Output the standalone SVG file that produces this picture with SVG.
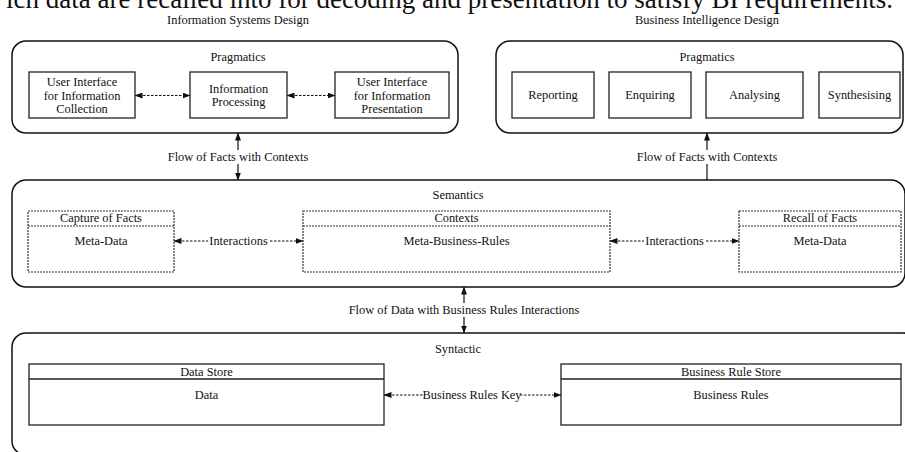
<svg xmlns="http://www.w3.org/2000/svg" width="905" height="452" viewBox="0 0 905 452">
<style>
text{font-family:"Liberation Serif","Times New Roman",serif;font-size:12.4px;fill:#111;text-anchor:middle}
.big{font-size:27px;text-anchor:end}
.outer{fill:none;stroke:#111;stroke-width:1.5}
.box{fill:#fff;stroke:#222;stroke-width:1.3}
.dbox{fill:#fff;stroke:#333;stroke-width:1.2;stroke-dasharray:2 1}
.solid{stroke:#111;stroke-width:1.2;fill:none}
.dash{stroke:#111;stroke-width:1;fill:none;stroke-dasharray:2.5 1.5}
.bg{fill:#fff}
</style>
<defs>
<marker id="ah" viewBox="0 0 8 6" refX="7.5" refY="3" markerWidth="8" markerHeight="6" markerUnits="userSpaceOnUse" orient="auto-start-reverse">
<path d="M0,0 L8,3 L0,6 z" fill="#111"/>
</marker>
</defs>
<rect width="905" height="452" fill="#fff"/>
<text class="big" x="893" y="8">ich data are recalled into for decoding and presentation to satisfy BI requirements.</text>
<text x="238" y="24">Information Systems Design</text>
<text x="707" y="24">Business Intelligence Design</text>

<g id="is-pragmatics">
<rect class="outer" x="12" y="41" width="446" height="92" rx="14"/>
<text x="238" y="61">Pragmatics</text>
</g>
<g id="ui-collection">
<rect class="box" x="29" y="72" width="106" height="46"/>
<text x="82" y="86">User Interface</text>
<text x="82" y="99.5">for Information</text>
<text x="82" y="113">Collection</text>
</g>
<g id="info-processing">
<rect class="box" x="190" y="72" width="97" height="46"/>
<text x="238.5" y="92.5">Information</text>
<text x="238.5" y="106">Processing</text>
</g>
<g id="ui-presentation">
<rect class="box" x="335" y="72" width="114" height="46"/>
<text x="392" y="86">User Interface</text>
<text x="392" y="99.5">for Information</text>
<text x="392" y="113">Presentation</text>
</g>

<g id="bi-pragmatics">
<rect class="outer" x="496" y="41" width="407" height="92" rx="14"/>
<text x="707" y="61">Pragmatics</text>
</g>
<g id="reporting">
<rect class="box" x="512" y="72" width="82" height="46"/>
<text x="553" y="99">Reporting</text>
</g>
<g id="enquiring">
<rect class="box" x="609" y="72" width="82" height="46"/>
<text x="650" y="99">Enquiring</text>
</g>
<g id="analysing">
<rect class="box" x="706" y="72" width="97" height="46"/>
<text x="754.5" y="99">Analysing</text>
</g>
<g id="synthesising">
<rect class="box" x="819" y="72" width="81" height="46"/>
<text x="859.5" y="99">Synthesising</text>
</g>

<g id="semantics">
<rect class="outer" x="12" y="180" width="893" height="107" rx="14"/>
<text x="458" y="199">Semantics</text>
</g>
<g id="capture-of-facts">
<rect class="dbox" x="28" y="211" width="146" height="61"/>
<line class="dbox" x1="28" y1="226" x2="174" y2="226"/>
<text x="101" y="222">Capture of Facts</text>
<text x="101" y="245">Meta-Data</text>
</g>
<g id="contexts">
<rect class="dbox" x="303" y="211" width="307" height="61"/>
<line class="dbox" x1="303" y1="226" x2="610" y2="226"/>
<text x="456.5" y="222">Contexts</text>
<text x="456.5" y="245">Meta-Business-Rules</text>
</g>
<g id="recall-of-facts">
<rect class="dbox" x="739" y="211" width="162" height="61"/>
<line class="dbox" x1="739" y1="226" x2="901" y2="226"/>
<text x="820" y="222">Recall of Facts</text>
<text x="820" y="245">Meta-Data</text>
</g>

<g id="syntactic">
<rect class="outer" x="12" y="333" width="905" height="122" rx="14"/>
<text x="458" y="353">Syntactic</text>
</g>
<g id="data-store">
<rect class="box" x="29" y="364" width="355" height="61"/>
<line class="box" x1="29" y1="379" x2="384" y2="379"/>
<text x="206.5" y="376">Data Store</text>
<text x="206.5" y="399">Data</text>
</g>
<g id="business-rule-store">
<rect class="box" x="561" y="364" width="340" height="61"/>
<line class="box" x1="561" y1="379" x2="901" y2="379"/>
<text x="731" y="376">Business Rule Store</text>
<text x="731" y="399">Business Rules</text>
</g>

<g id="connectors">
<line class="dash" x1="135" y1="95.5" x2="190" y2="95.5" marker-start="url(#ah)" marker-end="url(#ah)"/>
<line class="dash" x1="287" y1="95.5" x2="335" y2="95.5" marker-start="url(#ah)" marker-end="url(#ah)"/>

<line class="solid" x1="238" y1="133" x2="238" y2="180" marker-start="url(#ah)" marker-end="url(#ah)"/>
<rect class="bg" x="165" y="150" width="146" height="14"/>
<text x="238" y="161">Flow of Facts with Contexts</text>

<line class="solid" x1="707" y1="180" x2="707" y2="133" marker-end="url(#ah)"/>
<rect class="bg" x="634" y="150" width="146" height="14"/>
<text x="707" y="161">Flow of Facts with Contexts</text>

<line class="dash" x1="174" y1="241" x2="303" y2="241" marker-start="url(#ah)" marker-end="url(#ah)"/>
<rect class="bg" x="208" y="234" width="61" height="14"/>
<text x="238.5" y="245">Interactions</text>

<line class="dash" x1="610" y1="241" x2="739" y2="241" marker-start="url(#ah)" marker-end="url(#ah)"/>
<rect class="bg" x="644" y="234" width="61" height="14"/>
<text x="674.5" y="245">Interactions</text>

<line class="solid" x1="464" y1="287" x2="464" y2="333" marker-start="url(#ah)" marker-end="url(#ah)"/>
<rect class="bg" x="345" y="303" width="238" height="14"/>
<text x="464" y="314">Flow of Data with Business Rules Interactions</text>

<line class="dash" x1="384" y1="395" x2="561" y2="395" marker-start="url(#ah)" marker-end="url(#ah)"/>
<rect class="bg" x="425" y="388" width="94" height="14"/>
<text x="472" y="399">Business Rules Key</text>
</g>
</svg>
